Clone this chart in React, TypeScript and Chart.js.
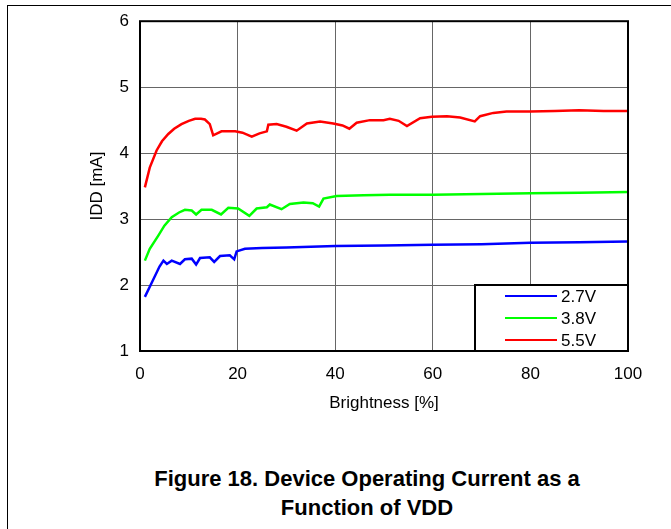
import React, { useEffect, useRef } from "react";
import { Chart, registerables } from "chart.js";

Chart.register(...registerables);

// ---- Data ----
const seriesLabels = ["2.7V", "3.8V", "5.5V"];
const seriesColors = ["#0000ff", "#00ff00", "#ff0000"];

const blueX = [1, 2.5, 4, 4.8, 5.5, 6.5, 8.2, 9.2, 10.6, 11.5, 12.3, 14.3, 15.2, 16.4, 18.4, 19.3, 19.8, 21.5, 25, 30, 40, 50, 60, 70, 80, 90, 100];
const blueY = [1.82, 2.05, 2.28, 2.37, 2.32, 2.37, 2.32, 2.39, 2.4, 2.31, 2.41, 2.42, 2.35, 2.44, 2.45, 2.39, 2.51, 2.55, 2.56, 2.57, 2.59, 2.6, 2.61, 2.62, 2.64, 2.65, 2.66];

const greenX = [1, 2, 3.75, 5, 6.5, 8, 9.2, 10.6, 11.5, 12.6, 14.7, 16.6, 18.1, 20.1, 22.4, 23.9, 26, 26.6, 29, 30.7, 33.5, 35.4, 36.7, 37.6, 40.3, 45.8, 51.2, 60, 70, 80, 90, 100];
const greenY = [2.37, 2.55, 2.75, 2.9, 3.03, 3.1, 3.14, 3.13, 3.07, 3.14, 3.14, 3.07, 3.17, 3.16, 3.05, 3.16, 3.18, 3.22, 3.15, 3.23, 3.25, 3.24, 3.19, 3.31, 3.35, 3.36, 3.37, 3.37, 3.38, 3.39, 3.4, 3.41];

const redX = [1, 2, 3.4, 4.5, 5.8, 7, 8.5, 10, 11.3, 12.5, 13.3, 14.3, 15, 16.7, 19.5, 21, 22.9, 24.5, 26, 26.3, 28, 30, 32.1, 34.2, 36.9, 39.6, 41.5, 42.9, 44.4, 47.1, 49.9, 51.2, 53, 54.7, 57.4, 59.8, 62.9, 65.6, 68.6, 69.7, 72.4, 75.1, 80, 85, 90, 95, 100];
const redY = [3.48, 3.78, 4.04, 4.18, 4.29, 4.37, 4.44, 4.49, 4.52, 4.52, 4.51, 4.44, 4.27, 4.33, 4.33, 4.31, 4.25, 4.3, 4.33, 4.43, 4.44, 4.4, 4.34, 4.45, 4.48, 4.45, 4.42, 4.37, 4.46, 4.5, 4.5, 4.52, 4.49, 4.41, 4.53, 4.55, 4.56, 4.54, 4.48, 4.56, 4.61, 4.63, 4.63, 4.64, 4.65, 4.64, 4.64];

const xMin = 0, xMax = 100, xStep = 20;
const yMin = 1, yMax = 6, yStep = 1;
const xTitle = "Brightness [%]";
const yTitle = "IDD [mA]";
const captionLines = ["Figure 18. Device Operating Current as a", "Function of VDD"];

const FONT = 'Arial, "Liberation Sans", sans-serif';

const toPoints = (xs: number[], ys: number[]) => xs.map((x, i) => ({ x, y: ys[i] }));

const framePlugin = {
  id: "frameAndLegend",
  afterDraw(chart: any) {
    const { ctx, chartArea } = chart;
    ctx.save();
    // plot frame
    ctx.strokeStyle = "#000";
    ctx.lineWidth = 2;
    ctx.strokeRect(chartArea.left, chartArea.top, chartArea.right - chartArea.left, chartArea.bottom - chartArea.top);
    // legend box
    const w = 153, h = 66;
    const bx = chartArea.right - w, by = chartArea.bottom - h;
    ctx.fillStyle = "#fff";
    ctx.fillRect(bx, by, w, h);
    ctx.strokeRect(bx, by, w, h);
    ctx.font = "17px " + FONT;
    ctx.textBaseline = "middle";
    ctx.textAlign = "left";
    chart.data.datasets.forEach((ds: any, i: number) => {
      const yy = by + 11 + i * 22;
      ctx.strokeStyle = ds.borderColor;
      ctx.lineWidth = 2;
      ctx.beginPath();
      ctx.moveTo(bx + 30, yy);
      ctx.lineTo(bx + 82, yy);
      ctx.stroke();
      ctx.fillStyle = "#000";
      ctx.fillText(ds.label, bx + 86, yy + 1);
    });
    ctx.restore();
  },
};

export default function App() {
  const canvasRef = useRef<HTMLCanvasElement | null>(null);

  useEffect(() => {
    if (!canvasRef.current) return;
    const series = [toPoints(blueX, blueY), toPoints(greenX, greenY), toPoints(redX, redY)];
    const chart = new Chart(canvasRef.current, {
      type: "line",
      data: {
        datasets: series.map((pts, i) => ({
          label: seriesLabels[i],
          data: pts,
          borderColor: seriesColors[i],
          backgroundColor: seriesColors[i],
          borderWidth: 2.5,
          pointRadius: 0,
          tension: 0,
          fill: false,
        })),
      },
      options: {
        responsive: false,
        animation: false,
        events: [],
        layout: { padding: { left: 0, right: 43, top: 20, bottom: 0 } },
        plugins: { legend: { display: false }, tooltip: { enabled: false } },
        scales: {
          x: {
            type: "linear",
            min: xMin,
            max: xMax,
            ticks: { stepSize: xStep, color: "#000", font: { family: FONT, size: 17 }, padding: 13, maxRotation: 0 },
            grid: { color: "#666", lineWidth: 1, drawTicks: false },
            border: { display: false },
            title: { display: true, text: xTitle, color: "#000", font: { family: FONT, size: 17 }, padding: { top: 0, bottom: 16 } },
            afterFit: (s: any) => { s.height = 79; },
          },
          y: {
            type: "linear",
            min: yMin,
            max: yMax,
            ticks: { stepSize: yStep, color: "#000", font: { family: FONT, size: 17 }, padding: 11 },
            grid: { color: "#666", lineWidth: 1, drawTicks: false },
            border: { display: false },
            title: { display: true, text: yTitle, color: "#000", font: { family: FONT, size: 17 }, padding: { top: 87, bottom: 0 } },
            afterFit: (s: any) => { s.width = 140; },
          },
        },
      },
      plugins: [framePlugin],
    } as any);
    return () => chart.destroy();
  }, []);

  return (
    <div style={{ position: "absolute", left: 0, top: 0, width: 671, height: 529, background: "#fff", overflow: "hidden", fontFamily: FONT }}>
      <div style={{ position: "absolute", left: 7, top: 5, right: 0, bottom: 0, borderTop: "1px solid #000", borderLeft: "1px solid #000" }} />
      <canvas ref={canvasRef} width={671} height={430} style={{ position: "absolute", left: 0, top: 0, width: 671, height: 430 }} />
      <div style={{ position: "absolute", left: 63, width: 608, top: 464, textAlign: "center", fontWeight: "bold", fontSize: 22, lineHeight: "29px", color: "#000" }}>
        {captionLines.map((l, i) => (<div key={i}>{l}</div>))}
      </div>
    </div>
  );
}
